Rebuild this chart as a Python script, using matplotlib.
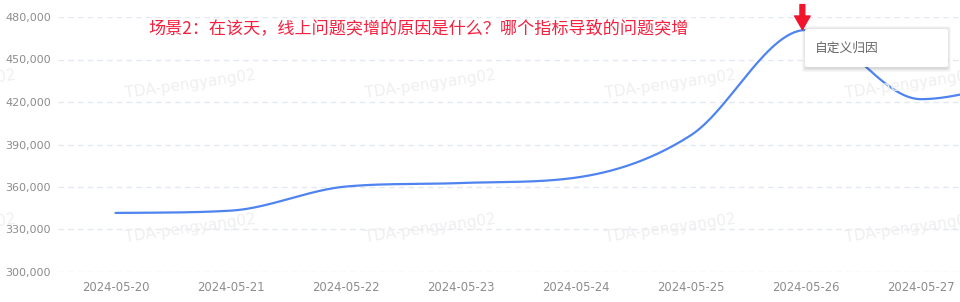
import numpy as np
import matplotlib
matplotlib.use("Agg")
import matplotlib.pyplot as plt
from matplotlib.patches import FancyBboxPatch

plt.rcParams['font.family'] = ['Noto Sans CJK SC', 'DejaVu Sans']

# ---- data ----
dates = ["2024-05-20", "2024-05-21", "2024-05-22", "2024-05-23",
         "2024-05-24", "2024-05-25", "2024-05-26", "2024-05-27", "2024-05-28"]
values = [341700, 343300, 360300, 362800, 366600, 396500, 470800, 422000, 436000]
y_ticks = [300000, 330000, 360000, 390000, 420000, 450000, 480000]
title = "场景2：在该天，线上问题突增的原因是什么？哪个指标导致的问题突增"
tooltip_label = "自定义归因"
watermark = "TDA-pengyang02"
peak_index = 6


def smooth_curve(y, per=60):
    y = np.asarray(y, dtype=float)
    n = len(y)
    d = np.diff(y)
    m = np.zeros(n)
    for k in range(1, n - 1):
        if d[k - 1] * d[k] > 0:
            mk = 0.5 * (d[k - 1] + d[k])
            lim = 3 * min(abs(d[k - 1]), abs(d[k]))
            m[k] = np.sign(mk) * min(abs(mk), lim)
    m[0] = d[0] * 0.5
    m[-1] = d[-1] * 0.5
    xs, ys = [], []
    for k in range(n - 1):
        t = np.linspace(0, 1, per, endpoint=(k == n - 2))
        h00 = 2 * t**3 - 3 * t**2 + 1
        h10 = t**3 - 2 * t**2 + t
        h01 = -2 * t**3 + 3 * t**2
        h11 = t**3 - t**2
        xs.append(k + t)
        ys.append(h00 * y[k] + h10 * m[k] + h01 * y[k + 1] + h11 * m[k + 1])
    return np.concatenate(xs), np.concatenate(ys)


W, H = 960, 302
fig = plt.figure(figsize=(W / 100, H / 100), dpi=100)
ax = fig.add_axes([58 / W, 30 / H, (W - 58) / W, 255 / H])

xs, ys = smooth_curve(values)
ax.plot(xs, ys, color="#4f84f0", lw=1.6, zorder=3, solid_capstyle="round")

ax.set_yticks(y_ticks)
ax.set_yticklabels([f"{v:,}" for v in y_ticks])
ax.set_xticks(range(len(dates)))
ax.set_xticklabels(dates)
ax.set_xlim(-0.5, 7.34)
ax.set_ylim(y_ticks[0], y_ticks[-1])
for s in ax.spines.values():
    s.set_visible(False)
ax.tick_params(axis="y", length=0, pad=5, labelsize=8, labelcolor="#8c8c8c")
ax.tick_params(axis="x", length=0, pad=6.5, labelsize=8.4, labelcolor="#8c8c8c")
for lab in ax.get_xticklabels() + ax.get_yticklabels():
    lab.set_family("DejaVu Sans")
ax.yaxis.grid(True, color="#e3e8f2", lw=1, ls=(0, (4, 3)))
ax.xaxis.grid(False)
ax.set_axisbelow(True)

# watermarks
for cy in (84, 228):
    for cx in (-50, 190, 430, 670, 910):
        fig.text(cx / W, 1 - cy / H, watermark, color="#efefef", fontsize=11,
                 rotation=8, ha="center", va="center", rotation_mode="anchor",
                 family="DejaVu Sans", zorder=1)

# title annotation
fig.text(148 / W, 1 - 28 / H, title, color="#f5203f", fontsize=12.3,
         ha="left", va="center")

# arrow pointing at peak
ax.annotate("", xy=(peak_index - 0.03, values[peak_index] + 300),
            xytext=(0, 18), textcoords="offset points",
            arrowprops=dict(arrowstyle="simple,head_length=0.7,head_width=0.8,tail_width=0.25",
                            color="#f0142d", mutation_scale=14, shrinkA=0, shrinkB=0),
            zorder=6)

# tooltip box with shadow
x0, y0, w, h = 805, 29, 143, 38
for i, a in enumerate([0.03, 0.03, 0.04, 0.05]):
    g = 4 - i
    sh = FancyBboxPatch(((x0 - g + 1) / W, 1 - (y0 + h + g + 1) / H),
                        (w + 2 * g - 2) / W, (h + 2 * g) / H,
                        boxstyle="round,pad=0,rounding_size=0.004",
                        transform=fig.transFigure, facecolor="black",
                        edgecolor="none", alpha=a, zorder=7)
    fig.patches.append(sh)
box = FancyBboxPatch((x0 / W, 1 - (y0 + h) / H), w / W, h / H,
                     boxstyle="round,pad=0,rounding_size=0.003",
                     transform=fig.transFigure, facecolor="white",
                     edgecolor="none", zorder=8)
fig.patches.append(box)
fig.text(815 / W, 1 - 48 / H, tooltip_label, color="#666666", fontsize=9.2,
         ha="left", va="center", zorder=9)

fig.savefig("out.png", dpi=100)
